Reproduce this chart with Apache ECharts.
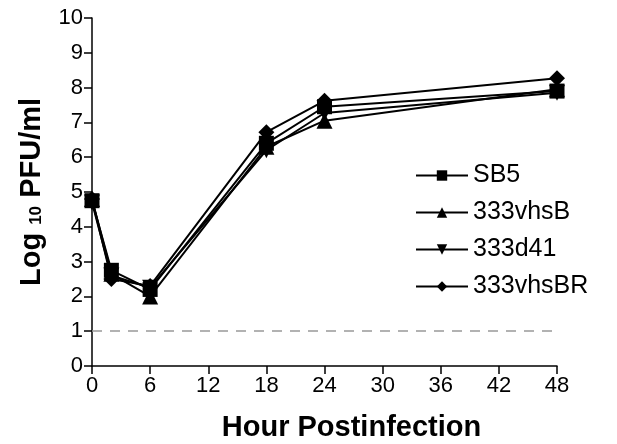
<!DOCTYPE html>
<html>
<head>
<meta charset="utf-8">
<script src="https://cdn.jsdelivr.net/npm/echarts@6/dist/echarts.min.js"></script>
<style>
  html, body { margin: 0; padding: 0; background: #fff; }
  #chart { width: 617px; height: 444px; }
</style>
</head>
<body>
<div id="chart"></div>
<script>
var hours = [0, 2, 6, 18, 24, 48];
var seriesNames = ['SB5', '333vhsB', '333d41', '333vhsBR'];
var sb5 = [4.75, 2.75, 2.2, 6.4, 7.45, 7.9];
var vhsB = [4.8, 2.65, 2.0, 6.3, 7.05, 7.95];
var d41 = [4.7, 2.6, 2.25, 6.2, 7.27, 7.85];
var vhsBR = [4.8, 2.5, 2.3, 6.72, 7.62, 8.27];
var detectionLimit = 1;

var chart = echarts.init(document.getElementById('chart'));

function pairs(vals) {
  return hours.map(function (h, i) { return [h, vals[i]]; });
}

function lineSeries(name, vals, symbol, rotate) {
  return {
    name: name,
    type: 'line',
    data: pairs(vals),
    symbol: symbol,
    symbolSize: symbol === 'rect' ? 15 : 16,
    symbolRotate: rotate || 0,
    lineStyle: { color: '#000', width: 2 },
    itemStyle: { color: '#000' },
    z: 3
  };
}

var font = 'Liberation Sans, Arial, Helvetica, sans-serif';

var option = {
  backgroundColor: '#ffffff',
  animation: false,
  grid: { left: 92, right: 60, top: 18, bottom: 78, containLabel: false, outerBoundsMode: 'none' },
  legend: {
    orient: 'vertical',
    left: 410,
    top: 158,
    itemWidth: 52,
    itemHeight: 13,
    itemGap: 12,
    data: seriesNames,
    textStyle: { fontFamily: font, fontSize: 25, color: '#000', padding: [0, 0, 0, 0] }
  },
  xAxis: {
    type: 'value',
    min: 0,
    max: 48,
    interval: 6,
    name: 'Hour Postinfection',
    nameLocation: 'middle',
    nameGap: 47,
    nameTextStyle: { fontFamily: font, fontSize: 29, fontWeight: 'bold', color: '#000', padding: [0, 0, 0, 54] },
    axisLine: { lineStyle: { color: '#000', width: 1.5 } },
    axisTick: { show: true, length: 8, lineStyle: { color: '#000', width: 1.5 } },
    axisLabel: { fontFamily: font, fontSize: 22, color: '#000', margin: 9 },
    splitLine: { show: false }
  },
  yAxis: {
    type: 'value',
    min: 0,
    max: 10,
    interval: 1,
    name: '{a|Log }{b|10}{a| PFU/ml}',
    nameLocation: 'middle',
    nameGap: 46,
    nameTextStyle: {
      rich: {
        a: { fontFamily: font, fontSize: 29, fontWeight: 'bold', color: '#000' },
        b: { fontFamily: font, fontSize: 17, fontWeight: 'bold', color: '#000', padding: [10, 0, 0, 0] }
      }
    },
    axisLine: { show: true, lineStyle: { color: '#000', width: 1.5 } },
    axisTick: { show: true, length: 8, lineStyle: { color: '#000', width: 1.5 } },
    axisLabel: { fontFamily: font, fontSize: 22, color: '#000', margin: 9 },
    splitLine: { show: false }
  },
  series: [
    lineSeries(seriesNames[0], sb5, 'rect'),
    lineSeries(seriesNames[1], vhsB, 'triangle'),
    lineSeries(seriesNames[2], d41, 'triangle', 180),
    lineSeries(seriesNames[3], vhsBR, 'diamond'),
    {
      name: 'limit',
      type: 'line',
      data: [],
      markLine: {
        silent: true,
        symbol: 'none',
        label: { show: false },
        lineStyle: { color: '#999', type: [10, 8], width: 1.5 },
        data: [{ yAxis: detectionLimit }]
      }
    }
  ]
};

chart.setOption(option);
</script>
</body>
</html>
